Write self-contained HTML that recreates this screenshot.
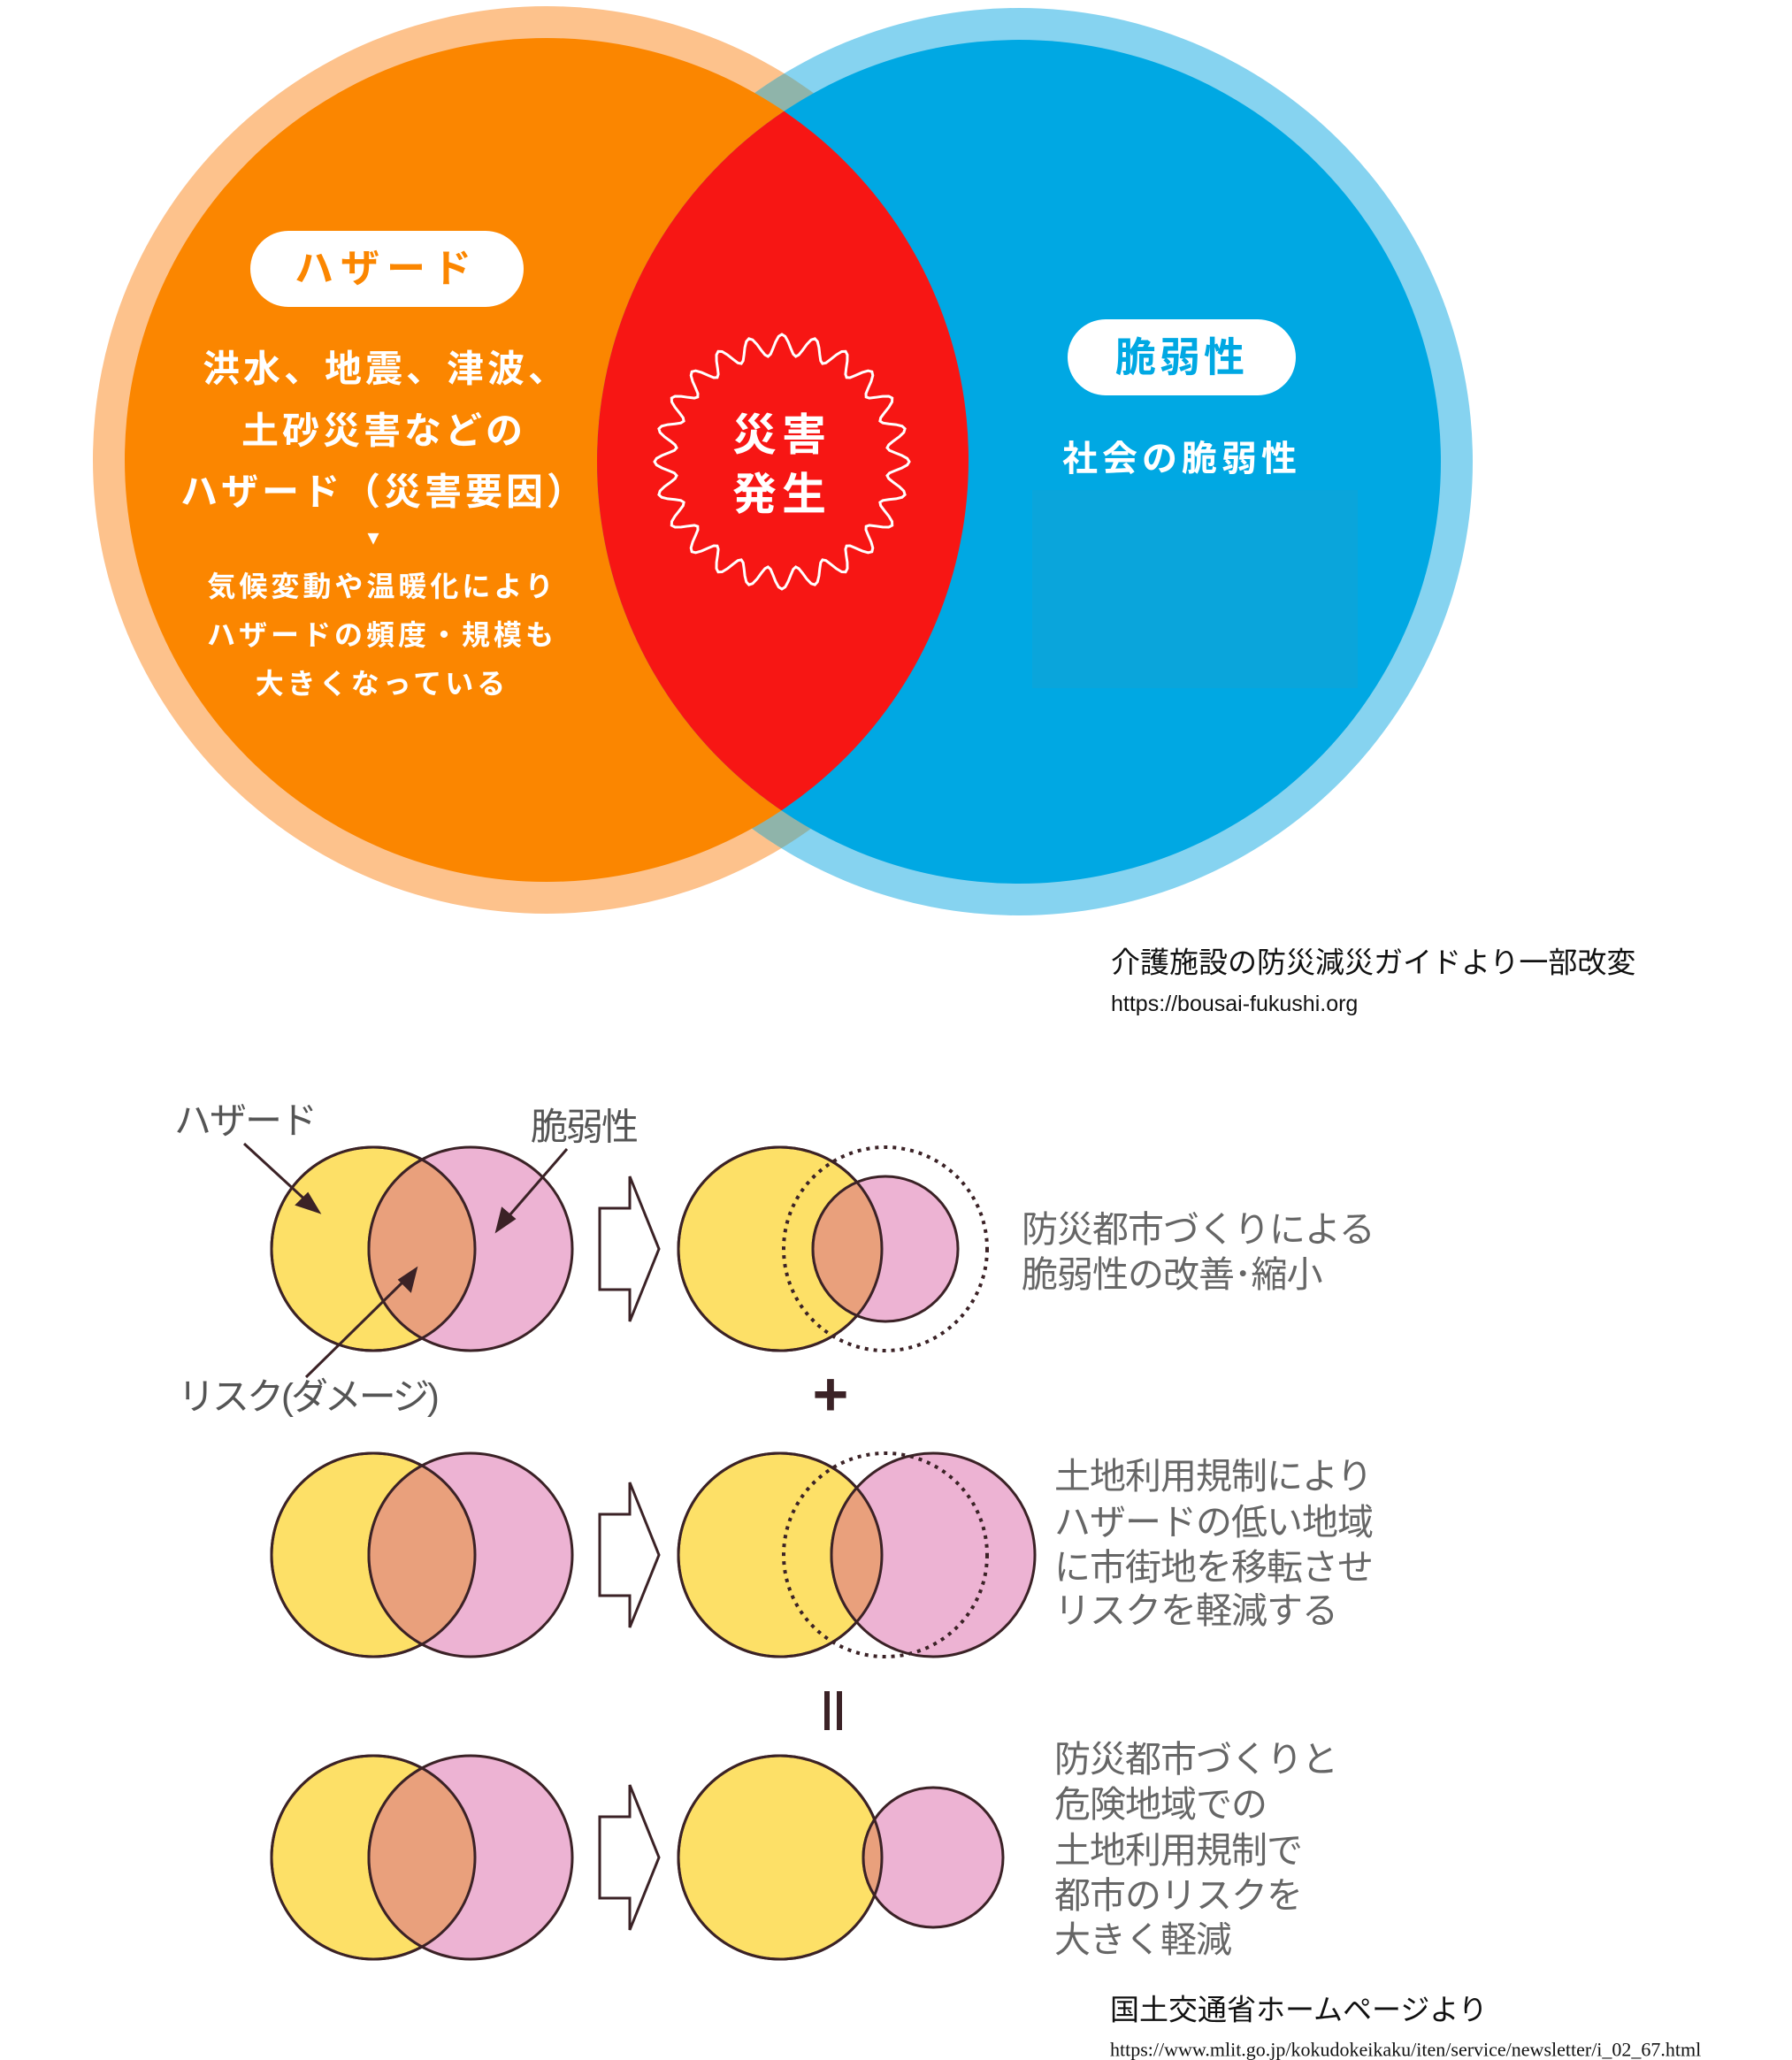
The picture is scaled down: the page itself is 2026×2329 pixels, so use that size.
<!DOCTYPE html>
<html><head><meta charset="utf-8"><style>
html,body{margin:0;padding:0;background:#fff;}
svg{display:block;}
text{font-family:"Liberation Sans","Noto Sans CJK JP",sans-serif;}
</style></head><body>
<svg width="2026" height="2329" viewBox="0 0 2026 2329" xmlns="http://www.w3.org/2000/svg">
<defs>
<clipPath id="cLo"><circle cx="618" cy="520" r="513"/></clipPath>
<clipPath id="cLi"><circle cx="618" cy="520" r="477"/></clipPath>
<clipPath id="y1"><circle cx="422" cy="1412" r="115"/></clipPath>
<clipPath id="y2"><circle cx="422" cy="1758" r="115"/></clipPath>
<clipPath id="y3"><circle cx="422" cy="2100" r="115"/></clipPath>
<clipPath id="ry1"><circle cx="882" cy="1412" r="115"/></clipPath>
<clipPath id="ry2"><circle cx="882" cy="1758" r="115"/></clipPath>
<clipPath id="ry3"><circle cx="882" cy="2100" r="115"/></clipPath>
</defs>
<circle cx="618" cy="520" r="513" fill="#fdc28c"/>
<circle cx="1152" cy="522" r="513" fill="#86d3f0"/>
<circle cx="1152" cy="522" r="513" fill="#8fb4aa" clip-path="url(#cLo)"/>
<circle cx="618" cy="520" r="477" fill="#fb8600"/>
<circle cx="1152" cy="522" r="477" fill="#00a8e3"/>
<circle cx="1152" cy="522" r="477" fill="#f71614" clip-path="url(#cLi)"/>
<rect x="1167" y="554" width="368" height="224" fill="#0aa5db"/>
<path id="star" fill="none" stroke="#fff" stroke-width="3" d=""/>
<script>
(function(){var cx=884,cy=522,n=24,pts=[];for(var i=0;i<=240;i++){var a=i/240*Math.PI*2;var r=132+12*Math.cos(a*n);pts.push((cx+r*Math.sin(a)).toFixed(1)+","+(cy-r*Math.cos(a)).toFixed(1));}document.getElementById('star').setAttribute('d','M'+pts.join('L')+'Z');})();
</script>
<text x="884" y="492" font-size="50" font-weight="bold" fill="#fff" text-anchor="middle" dominant-baseline="central" letter-spacing="6">災害</text>
<text x="884" y="559" font-size="50" font-weight="bold" fill="#fff" text-anchor="middle" dominant-baseline="central" letter-spacing="6">発生</text>
<rect x="283" y="261" width="309" height="86" rx="43" fill="#fff"/>
<text x="437" y="304" font-size="44" font-weight="bold" fill="#fb8600" text-anchor="middle" dominant-baseline="central" letter-spacing="8">ハザード</text>
<g font-weight="bold" fill="#fff" text-anchor="middle" dominant-baseline="central">
<text x="436" y="417" font-size="42" letter-spacing="4">洪水、地震、津波、</text>
<text x="434" y="487" font-size="42" letter-spacing="4">土砂災害などの</text>
<text x="434" y="556" font-size="42" letter-spacing="4">ハザード（災害要因）</text>
<text x="422" y="608" font-size="22">▼</text>
<text x="432" y="663" font-size="32" letter-spacing="4">気候変動や温暖化により</text>
<text x="432" y="718" font-size="32" letter-spacing="4">ハザードの頻度・規模も</text>
<text x="432" y="773" font-size="32" letter-spacing="4">大きくなっている</text>
</g>
<rect x="1207" y="361" width="258" height="86" rx="43" fill="#fff"/>
<text x="1336" y="404" font-size="46" font-weight="bold" fill="#00a8e3" text-anchor="middle" dominant-baseline="central" letter-spacing="4">脆弱性</text>
<text x="1336" y="519" font-size="40" font-weight="bold" fill="#fff" text-anchor="middle" dominant-baseline="central" letter-spacing="5">社会の脆弱性</text>
<text x="1256" y="1088" font-size="33" fill="#111" dominant-baseline="central">介護施設の防災減災ガイドより一部改変</text>
<text x="1256" y="1135" font-size="25" fill="#111" dominant-baseline="central">https://bousai-fukushi.org</text>

<g stroke="#3b2226" stroke-width="3">
<circle cx="422" cy="1412" r="115" fill="#fde067"/><circle cx="532" cy="1412" r="115" fill="#edb3d3"/>
<circle cx="532" cy="1412" r="115" fill="#e9a07c" clip-path="url(#y1)"/><circle cx="422" cy="1412" r="115" fill="none"/>
<circle cx="422" cy="1758" r="115" fill="#fde067"/><circle cx="532" cy="1758" r="115" fill="#edb3d3"/>
<circle cx="532" cy="1758" r="115" fill="#e9a07c" clip-path="url(#y2)"/><circle cx="422" cy="1758" r="115" fill="none"/>
<circle cx="422" cy="2100" r="115" fill="#fde067"/><circle cx="532" cy="2100" r="115" fill="#edb3d3"/>
<circle cx="532" cy="2100" r="115" fill="#e9a07c" clip-path="url(#y3)"/><circle cx="422" cy="2100" r="115" fill="none"/>
<circle cx="882" cy="1412" r="115" fill="#fde067"/><circle cx="1001" cy="1412" r="82" fill="#edb3d3"/>
<circle cx="1001" cy="1412" r="82" fill="#e9a07c" clip-path="url(#ry1)"/><circle cx="882" cy="1412" r="115" fill="none"/>
<circle cx="1001" cy="1412" r="115" fill="none" stroke-dasharray="4 6" stroke-width="4"/>
<circle cx="882" cy="1758" r="115" fill="#fde067"/><circle cx="1055" cy="1758" r="115" fill="#edb3d3"/>
<circle cx="1055" cy="1758" r="115" fill="#e9a07c" clip-path="url(#ry2)"/><circle cx="882" cy="1758" r="115" fill="none"/>
<circle cx="1001" cy="1758" r="115" fill="none" stroke-dasharray="4 6" stroke-width="4"/>
<circle cx="882" cy="2100" r="115" fill="#fde067"/><circle cx="1055" cy="2100" r="79" fill="#edb3d3"/>
<circle cx="1055" cy="2100" r="79" fill="#e9a07c" clip-path="url(#ry3)"/><circle cx="882" cy="2100" r="115" fill="none"/>
</g>
<g fill="#fff" stroke="#3b2226" stroke-width="3">
<path d="M678 1366 H712 V1330 L745 1412 L712 1494 V1458 H678 Z"/>
<path d="M678 1712 H712 V1676 L745 1758 L712 1840 V1804 H678 Z"/>
<path d="M678 2054 H712 V2018 L745 2100 L712 2182 V2146 H678 Z"/>
</g>
<g stroke="#3b2226" stroke-width="3" fill="#3b2226">
<line x1="276" y1="1293" x2="350" y2="1361"/><polygon points="360,1370 336,1362 348,1350"/>
<line x1="641" y1="1299" x2="570" y2="1381"/><polygon points="562,1391 568,1367 581,1378"/>
<line x1="346" y1="1557" x2="461" y2="1444"/><polygon points="470,1435 464,1459 452,1447"/>
</g>
<g font-size="42" fill="#555" dominant-baseline="central">
<text x="197" y="1267" letter-spacing="-2">ハザード</text>
<text x="600" y="1274" letter-spacing="-2">脆弱性</text>
<text x="201" y="1579" letter-spacing="-3">リスク(ダメージ)</text>
</g>
<text x="939" y="1576" font-size="70" font-weight="bold" fill="#3b2226" text-anchor="middle" dominant-baseline="central">+</text>
<rect x="932" y="1912" width="6" height="44" fill="#3b2226"/><rect x="946" y="1912" width="6" height="44" fill="#3b2226"/>
<g font-size="41" fill="#666" dominant-baseline="central" letter-spacing="-1">
<text x="1155" y="1390">防災都市づくりによる</text>
<text x="1155" y="1441">脆弱性の改善･縮小</text>
<text x="1192" y="1669">土地利用規制により</text>
<text x="1192" y="1721">ハザードの低い地域</text>
<text x="1192" y="1772">に市街地を移転させ</text>
<text x="1192" y="1821">リスクを軽減する</text>
<text x="1192" y="1989">防災都市づくりと</text>
<text x="1192" y="2040">危険地域での</text>
<text x="1192" y="2092">土地利用規制で</text>
<text x="1192" y="2143">都市のリスクを</text>
<text x="1192" y="2193">大きく軽減</text>
</g>
<text x="1255" y="2272" font-size="33" fill="#111" dominant-baseline="central">国土交通省ホームページより</text>
<text x="1255" y="2317" font-size="22" fill="#111" dominant-baseline="central" style="font-family:'Liberation Serif',serif">https://www.mlit.go.jp/kokudokeikaku/iten/service/newsletter/i_02_67.html</text>
</svg>
</body></html>
